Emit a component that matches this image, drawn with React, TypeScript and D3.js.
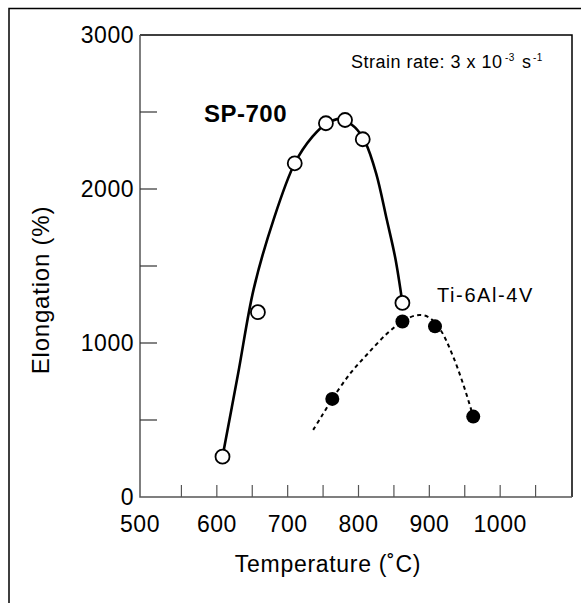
import { useEffect, useRef } from 'react';
import * as d3 from 'd3';

// SP-700 measured points (temperature °C, elongation %)
const spTemps = [608, 658, 710, 754, 781, 806, 862];
const spElong = [262, 1200, 2167, 2427, 2448, 2323, 1260];

// hand-drawn trend line through SP-700
const spCurveTemps = [608, 630, 652, 680, 710, 735, 755, 775, 795, 810, 825, 840, 852, 862];
const spCurveElong = [262, 800, 1350, 1800, 2167, 2340, 2425, 2455, 2400, 2300, 2100, 1800, 1550, 1260];

// Ti-6Al-4V measured points
const tiTemps = [763, 862, 908, 962];
const tiElong = [637, 1140, 1108, 522];

// dashed trend line through Ti-6Al-4V
const tiCurveTemps = [736, 750, 763, 788, 812, 840, 862, 882, 898, 915, 932, 948, 962];
const tiCurveElong = [436, 540, 637, 800, 925, 1060, 1140, 1180, 1170, 1090, 930, 730, 522];

const xTickLabels = [500, 600, 700, 800, 900, 1000];
const xMinorTicks = [550, 600, 650, 700, 750, 800, 850, 900, 950, 1000, 1050];
const yTickLabels = [0, 1000, 2000, 3000];
const yMinorTicks = [500, 1000, 1500, 2000, 2500];

const FONT = '"Liberation Sans", Arial, Helvetica, sans-serif';

function App() {
  const svgRef = useRef<SVGSVGElement>(null);

  useEffect(() => {
    const svg = d3.select(svgRef.current);
    svg.selectAll('*').remove();

    const left = 140;
    const right = 572;
    const top = 35;
    const bottom = 497;

    const x = d3.scaleLinear().domain([500, 1100]).range([146, 571]);
    const y = d3.scaleLinear().domain([0, 3000]).range([bottom, top]);

    // outer border (cropped at right and bottom)
    svg
      .append('path')
      .attr('d', `M9,610 V8.5 H600`)
      .attr('fill', 'none')
      .attr('stroke', '#000')
      .attr('stroke-width', 1.5);

    // plot frame: top and right in black, axes in grey
    svg
      .append('path')
      .attr('d', `M${left},${top} H${right} V${bottom}`)
      .attr('fill', 'none')
      .attr('stroke', '#000')
      .attr('stroke-width', 1.5);
    svg
      .append('path')
      .attr('d', `M${left},${top} V${bottom} H${right}`)
      .attr('fill', 'none')
      .attr('stroke', '#555')
      .attr('stroke-width', 1.5);

    // ticks
    svg
      .append('g')
      .selectAll('line')
      .data(xMinorTicks)
      .join('line')
      .attr('x1', (d) => x(d))
      .attr('x2', (d) => x(d))
      .attr('y1', bottom)
      .attr('y2', bottom - 12)
      .attr('stroke', '#555')
      .attr('stroke-width', 1.2);
    svg
      .append('g')
      .selectAll('line')
      .data(yMinorTicks)
      .join('line')
      .attr('x1', left)
      .attr('x2', left + 17)
      .attr('y1', (d) => y(d))
      .attr('y2', (d) => y(d))
      .attr('stroke', '#333')
      .attr('stroke-width', 1.2);

    // tick labels
    svg
      .append('g')
      .selectAll('text')
      .data(xTickLabels)
      .join('text')
      .attr('x', (d) => (d === 500 ? left : x(d)))
      .attr('y', 532)
      .attr('text-anchor', 'middle')
      .attr('font-family', FONT)
      .attr('font-size', 23)
      .attr('letter-spacing', 0.5)
      .text((d) => d);
    svg
      .append('g')
      .selectAll('text')
      .data(yTickLabels)
      .join('text')
      .attr('x', left - 6)
      .attr('y', (d) => y(d) + 8)
      .attr('text-anchor', 'end')
      .attr('font-family', FONT)
      .attr('font-size', 23)
      .attr('letter-spacing', 0.5)
      .text((d) => d);

    // axis titles
    svg
      .append('text')
      .attr('x', 328)
      .attr('y', 572)
      .attr('text-anchor', 'middle')
      .attr('font-family', FONT)
      .attr('font-size', 23)
      .attr('letter-spacing', 0.7)
      .text('Temperature (˚C)');
    svg
      .append('text')
      .attr('transform', `translate(49,290) rotate(-90)`)
      .attr('text-anchor', 'middle')
      .attr('font-family', FONT)
      .attr('font-size', 24)
      .attr('letter-spacing', 0.8)
      .text('Elongation (%)');

    // trend lines
    const line = d3
      .line<[number, number]>()
      .x((d) => x(d[0]))
      .y((d) => y(d[1]))
      .curve(d3.curveCatmullRom.alpha(0.5));

    const spLine = spCurveTemps.map((t, i) => [t, spCurveElong[i]] as [number, number]);
    const tiLine = tiCurveTemps.map((t, i) => [t, tiCurveElong[i]] as [number, number]);

    svg
      .append('path')
      .attr('d', line(spLine))
      .attr('fill', 'none')
      .attr('stroke', '#000')
      .attr('stroke-width', 2.6);
    svg
      .append('path')
      .attr('d', line(tiLine))
      .attr('fill', 'none')
      .attr('stroke', '#000')
      .attr('stroke-width', 2)
      .attr('stroke-dasharray', '4,3.5');

    // markers
    svg
      .append('g')
      .selectAll('circle')
      .data(spTemps.map((t, i) => [t, spElong[i]]))
      .join('circle')
      .attr('cx', (d) => x(d[0]))
      .attr('cy', (d) => y(d[1]))
      .attr('r', 7)
      .attr('fill', '#fff')
      .attr('stroke', '#000')
      .attr('stroke-width', 1.8);
    svg
      .append('g')
      .selectAll('circle')
      .data(tiTemps.map((t, i) => [t, tiElong[i]]))
      .join('circle')
      .attr('cx', (d) => x(d[0]))
      .attr('cy', (d) => y(d[1]))
      .attr('r', 7)
      .attr('fill', '#000');

    // annotations
    svg
      .append('text')
      .attr('x', 204)
      .attr('y', 122)
      .attr('font-family', FONT)
      .attr('font-size', 24)
      .attr('font-weight', 'bold')
      .attr('letter-spacing', 0.5)
      .text('SP-700');
    svg
      .append('text')
      .attr('x', 437)
      .attr('y', 302)
      .attr('font-family', FONT)
      .attr('font-size', 20)
      .attr('letter-spacing', 1.6)
      .text('Ti-6Al-4V');

    const strain = svg
      .append('g')
      .attr('font-family', FONT)
      .attr('letter-spacing', 0.5);
    strain
      .append('text')
      .attr('x', 351)
      .attr('y', 68)
      .attr('font-size', 18)
      .text('Strain rate: 3 x 10');
    strain.append('text').attr('x', 505).attr('y', 61).attr('font-size', 10).text('-3');
    strain.append('text').attr('x', 522).attr('y', 68).attr('font-size', 18).text('s');
    strain.append('text').attr('x', 533).attr('y', 61).attr('font-size', 10).text('-1');
  }, []);

  return (
    <svg
      ref={svgRef}
      width={581}
      height={603}
      style={{ position: 'absolute', left: 0, top: 0, background: '#fff' }}
    />
  );
}

export default App;
